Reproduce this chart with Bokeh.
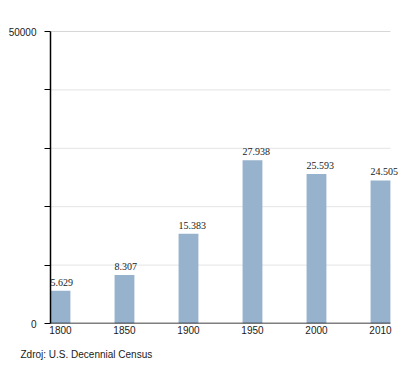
from bokeh.plotting import figure
from bokeh.models import ColumnDataSource, FixedTicker, LabelSet, Range1d, Title
from bokeh.embed import file_html
from bokeh.resources import INLINE

years = ["1800", "1850", "1900", "1950", "2000", "2010"]
population = [5629, 8307, 15383, 27938, 25593, 24505]
y_ticks = [0, 10000, 20000, 30000, 40000, 50000]
y_tick_labels = {0: "0", 50000: "50000"}
source_text = "Zdroj: U.S. Decennial Census"

idx = list(range(len(years)))
labels = ["{:,}".format(v).replace(",", ".") for v in population]
src = ColumnDataSource(dict(x=idx, top=population, lab=labels))

FONT = "Liberation Sans"
TXT = "#1a1a1a"

pad = 0.156                      # space between frame edge and outer bar centres
x_lo = -pad
x_hi_axis = len(years) - 1 + pad
x_hi_frame = len(years) - 1 + 0.469

p = figure(width=412, height=369, output_backend="svg", toolbar_location=None,
           x_range=Range1d(x_lo, x_hi_frame), y_range=Range1d(0, y_ticks[-1]),
           min_border_left=50, min_border_right=2, min_border_top=31, min_border_bottom=46)
p.outline_line_color = None
p.xgrid.grid_line_color = None
p.ygrid.grid_line_color = None

# horizontal grid lines limited to the chart area
grid_vals = y_ticks[1:-1]
p.segment(x0=[x_lo] * len(grid_vals), x1=[x_hi_axis] * len(grid_vals),
          y0=grid_vals, y1=grid_vals, line_color="#e4e4e4", line_width=1)
p.segment(x0=[x_lo], x1=[x_hi_axis], y0=[y_ticks[-1]], y1=[y_ticks[-1]],
          line_color="#b0b0b0", line_width=1)

p.vbar(x="x", top="top", width=0.31, source=src, fill_color="#97b2cc", line_color=None)

# bottom axis line
p.segment(x0=[x_lo], x1=[x_hi_axis], y0=[0], y1=[0], line_color="black", line_width=1.5)

ls = LabelSet(x="x", y="top", text="lab", source=src, x_offset=-10, y_offset=5,
              text_align="left", text_baseline="bottom", text_font_size="10px",
              text_font=FONT, text_color=TXT)
p.add_layout(ls)

p.xaxis.ticker = FixedTicker(ticks=idx)
p.xaxis.major_label_overrides = {i: y for i, y in zip(idx, years)}
p.xaxis.major_tick_line_color = None
p.xaxis.minor_tick_line_color = None
p.xaxis.axis_line_color = None
p.xaxis.major_label_text_font = FONT
p.xaxis.major_label_text_font_size = "10px"
p.xaxis.major_label_text_color = TXT
p.xaxis.major_label_standoff = 2
p.xaxis.major_tick_out = 0
p.xaxis.major_tick_in = 0

p.yaxis.ticker = FixedTicker(ticks=y_ticks)
p.yaxis.major_label_overrides = {t: y_tick_labels.get(t, "") for t in y_ticks}
p.yaxis.major_tick_in = 0
p.yaxis.major_tick_out = 6
p.yaxis.major_tick_line_color = "black"
p.yaxis.minor_tick_line_color = None
p.yaxis.axis_line_color = "black"
p.yaxis.axis_line_width = 1.5
p.yaxis.major_label_text_font = FONT
p.yaxis.major_label_text_font_size = "10px"
p.yaxis.major_label_text_color = TXT
p.yaxis.major_label_standoff = 8

p.add_layout(Title(text=source_text, align="left", offset=-30, standoff=20,
                   text_font=FONT, text_font_size="10px", text_font_style="normal",
                   text_color=TXT), "below")

open("out.html", "w").write(file_html(p, INLINE))
